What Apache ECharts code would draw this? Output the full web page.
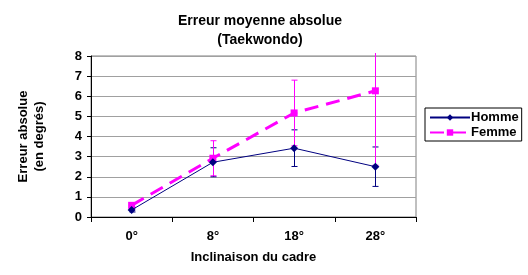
<!DOCTYPE html>
<html><head><meta charset="utf-8">
<script src="https://cdn.jsdelivr.net/npm/echarts@6/dist/echarts.min.js"></script>
<style>html,body{margin:0;padding:0;background:#fff}#c{width:528px;height:275px}</style>
</head><body><div id="c"></div>
<script>
const categories = ['0°', '8°', '18°', '28°'];
const hommeValues = [0.35, 2.72, 3.42, 2.50];
const hommeErr = [0.1, 0.72, 0.91, 0.98];
const femmeValues = [0.58, 2.92, 5.17, 6.27];
const femmeErr = [0.1, 0.87, 1.63, 3.7];
const yTicks = [0, 1, 2, 3, 4, 5, 6, 7, 8];

const FONT = 'Liberation Sans, Arial, sans-serif';
const chart = echarts.init(document.getElementById('c'));

function errSeries(name, vals, errs, color, z) {
  return {
    type: 'custom', name: name + ' err', silent: true, z: z, clip: false,
    data: vals.map((v, i) => [i, v - errs[i], v + errs[i]]),
    renderItem: function (params, api) {
      const lo = api.coord([api.value(0), api.value(1)]);
      const hi = api.coord([api.value(0), api.value(2)]);
      const topLimit = params.coordSys.y - 3;
      const w = 3;
      const x = Math.round(lo[0]) + 0.5;
      const st = { stroke: color, lineWidth: 1, fill: null };
      const clipped = hi[1] < topLimit;
      const hy = clipped ? topLimit : hi[1];
      const children = [
        { type: 'line', shape: { x1: x, y1: lo[1], x2: x, y2: hy }, style: st },
        { type: 'line', shape: { x1: x - w, y1: lo[1], x2: x + w, y2: lo[1] }, style: st }
      ];
      if (!clipped) children.push({ type: 'line', shape: { x1: x - w, y1: hi[1], x2: x + w, y2: hi[1] }, style: st });
      return { type: 'group', children: children };
    }
  };
}

chart.setOption({
  animation: false,
  textStyle: { fontFamily: FONT },
  title: {
    text: 'Erreur moyenne absolue\n(Taekwondo)',
    left: 255, textAlign: 'center', top: 7,
    textStyle: { fontFamily: FONT, fontSize: 14, fontWeight: 'bold', color: '#000', lineHeight: 19 }
  },
  legend: {
    orient: 'vertical', left: 425, top: 108,
    borderColor: '#000', borderWidth: 1, borderRadius: 0,
    padding: [3, 3, 2, 4], itemGap: 2, itemWidth: 40, itemHeight: 8,
    data: ['Homme', 'Femme'],
    textStyle: { fontFamily: FONT, fontSize: 13, fontWeight: 'bold', color: '#000', padding: [0, 0, 0, -4] }
  },
  grid: { left: 91, top: 56, width: 325, height: 161, show: true, borderColor: '#808080', borderWidth: 1 },
  xAxis: {
    type: 'category', data: categories, boundaryGap: true,
    name: 'Inclinaison du cadre', nameLocation: 'middle', nameGap: 34,
    nameTextStyle: { fontFamily: FONT, fontSize: 13, fontWeight: 'bold', color: '#000' },
    axisLine: { lineStyle: { color: '#000', width: 1 } },
    axisTick: { show: true, length: 5, lineStyle: { color: '#000' } },
    axisLabel: { fontFamily: FONT, fontSize: 13, fontWeight: 'bold', color: '#000', margin: 13 },
    splitLine: { show: false }
  },
  yAxis: {
    type: 'value', min: yTicks[0], max: yTicks[yTicks.length - 1], interval: 1,
    name: 'Erreur absolue\n(en degrés)', nameLocation: 'middle', nameGap: 44,
    nameTextStyle: { fontFamily: FONT, fontSize: 13, fontWeight: 'bold', color: '#000', lineHeight: 16 },
    axisLine: { show: true, lineStyle: { color: '#000', width: 1 } },
    axisTick: { show: true, length: 4, lineStyle: { color: '#000' } },
    axisLabel: { fontFamily: FONT, fontSize: 13, fontWeight: 'bold', color: '#000', margin: 9 },
    splitLine: { show: true, lineStyle: { color: '#a0a0a0', width: 1 } }
  },
  series: [
    errSeries('Homme', hommeValues, hommeErr, '#000080', 2),
    errSeries('Femme', femmeValues, femmeErr, '#ff00ff', 3),
    {
      name: 'Homme', type: 'line', data: hommeValues, z: 5,
      symbol: 'diamond', symbolSize: 8,
      lineStyle: { color: '#000080', width: 1 },
      itemStyle: { color: '#000080' }
    },
    {
      name: 'Femme', type: 'line', data: femmeValues, z: 4,
      symbol: 'rect', symbolSize: 7,
      lineStyle: { color: '#ff00ff', width: 3, type: [14, 8] },
      itemStyle: { color: '#ff00ff' }
    }
  ]
});
</script></body></html>
